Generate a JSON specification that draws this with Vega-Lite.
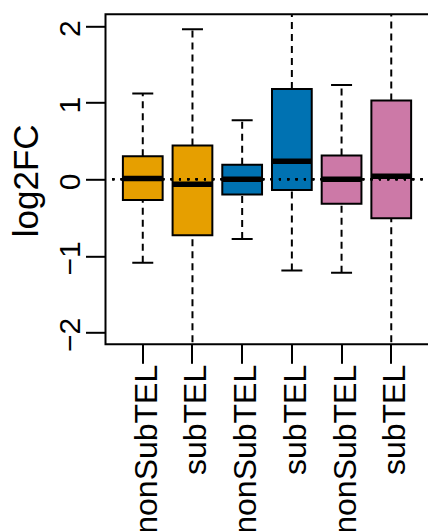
{
  "$schema": "https://vega.github.io/schema/vega-lite/v6.json",
  "autosize": {"type": "none"},
  "width": 328,
  "height": 330,
  "padding": {"left": 105.5, "top": 14.3, "right": 0, "bottom": 187},
  "background": "white",
  "config": {
    "font": "Liberation Sans",
    "view": {"stroke": "black", "strokeWidth": 2},
    "axis": {"grid": false, "domain": false, "tickColor": "black", "tickWidth": 2, "labelColor": "black", "titleColor": "black", "titleFontWeight": "normal"}
  },
  "data": {
    "values": [
      {"key": "A|nonSubTEL", "set": "A", "lo": -1.09, "q1": -0.27, "med": 0.01, "q3": 0.30, "hi": 1.12},
      {"key": "A|subTEL", "set": "A", "lo": -2.6, "q1": -0.73, "med": -0.065, "q3": 0.44, "hi": 1.96},
      {"key": "B|nonSubTEL", "set": "B", "lo": -0.78, "q1": -0.20, "med": 0.0, "q3": 0.19, "hi": 0.77},
      {"key": "B|subTEL", "set": "B", "lo": -1.19, "q1": -0.14, "med": 0.235, "q3": 1.18, "hi": 2.6},
      {"key": "C|nonSubTEL", "set": "C", "lo": -1.22, "q1": -0.32, "med": 0.0, "q3": 0.31, "hi": 1.23},
      {"key": "C|subTEL", "set": "C", "lo": -2.6, "q1": -0.51, "med": 0.04, "q3": 1.03, "hi": 2.6}
    ]
  },
  "encoding": {
    "x": {
      "field": "key",
      "type": "nominal",
      "sort": null,
      "scale": {"paddingInner": 0.2, "paddingOuter": 0.4, "align": 0.4375},
      "axis": {
        "title": null,
        "labelExpr": "split(datum.label, '|')[1]",
        "labelAngle": -90,
        "labelAlign": "right",
        "labelBaseline": "middle",
        "labelFontSize": 32,
        "labelOffset": 4,
        "tickSize": 19,
        "labelPadding": 1,
        "labelOverlap": false,
        "labelBound": false
      }
    }
  },
  "layer": [
    {
      "mark": {"type": "rule", "strokeDash": [7, 5], "strokeWidth": 2, "color": "black", "clip": true},
      "encoding": {
        "y": {"field": "lo", "type": "quantitative", "scale": {"domain": [-2.155, 2.155], "nice": false, "zero": false},
          "axis": {
            "values": [-2, -1, 0, 1, 2],
            "format": "d",
            "title": "log2FC",
            "titleFontSize": 35,
            "titleAngle": -90,
            "titleAlign": "center",
            "titleBaseline": "alphabetic",
            "titleX": -68,
            "titleY": 166,
            "labelAngle": -90,
            "labelAlign": "center",
            "labelBaseline": "alphabetic",
            "labelFontSize": 30,
            "labelOffset": 2,
            "tickSize": 20,
            "labelPadding": 6,
            "labelOverlap": false,
            "labelBound": false,
            "labelFlush": false
          }},
        "y2": {"field": "q1"}
      }
    },
    {
      "mark": {"type": "rule", "strokeDash": [7, 5], "strokeWidth": 2, "color": "black", "clip": true},
      "encoding": {
        "y": {"field": "q3", "type": "quantitative"},
        "y2": {"field": "hi"}
      }
    },
    {
      "mark": {"type": "tick", "orient": "horizontal", "size": 21, "thickness": 2, "color": "black", "opacity": 1, "clip": true},
      "encoding": {"y": {"field": "lo", "type": "quantitative"}}
    },
    {
      "mark": {"type": "tick", "orient": "horizontal", "size": 21, "thickness": 2, "color": "black", "opacity": 1, "clip": true},
      "encoding": {"y": {"field": "hi", "type": "quantitative"}}
    },
    {
      "mark": {"type": "bar", "stroke": "black", "strokeWidth": 2, "opacity": 1, "clip": true},
      "encoding": {
        "y": {"field": "q1", "type": "quantitative"},
        "y2": {"field": "q3"},
        "color": {"field": "set", "type": "nominal", "scale": {"domain": ["A", "B", "C"], "range": ["#E69F00", "#0072B2", "#CC79A7"]}, "legend": null}
      }
    },
    {
      "mark": {"type": "tick", "orient": "horizontal", "size": 40, "thickness": 5.5, "color": "black", "opacity": 1, "clip": true},
      "encoding": {"y": {"field": "med", "type": "quantitative"}}
    },
    {
      "mark": {"type": "rule", "strokeDash": [2, 6.33], "strokeDashOffset": 1.5, "strokeWidth": 2, "color": "black"},
      "encoding": {"y": {"datum": 0, "type": "quantitative"}, "x": {"value": 0}, "x2": {"value": 328}}
    }
  ]
}
